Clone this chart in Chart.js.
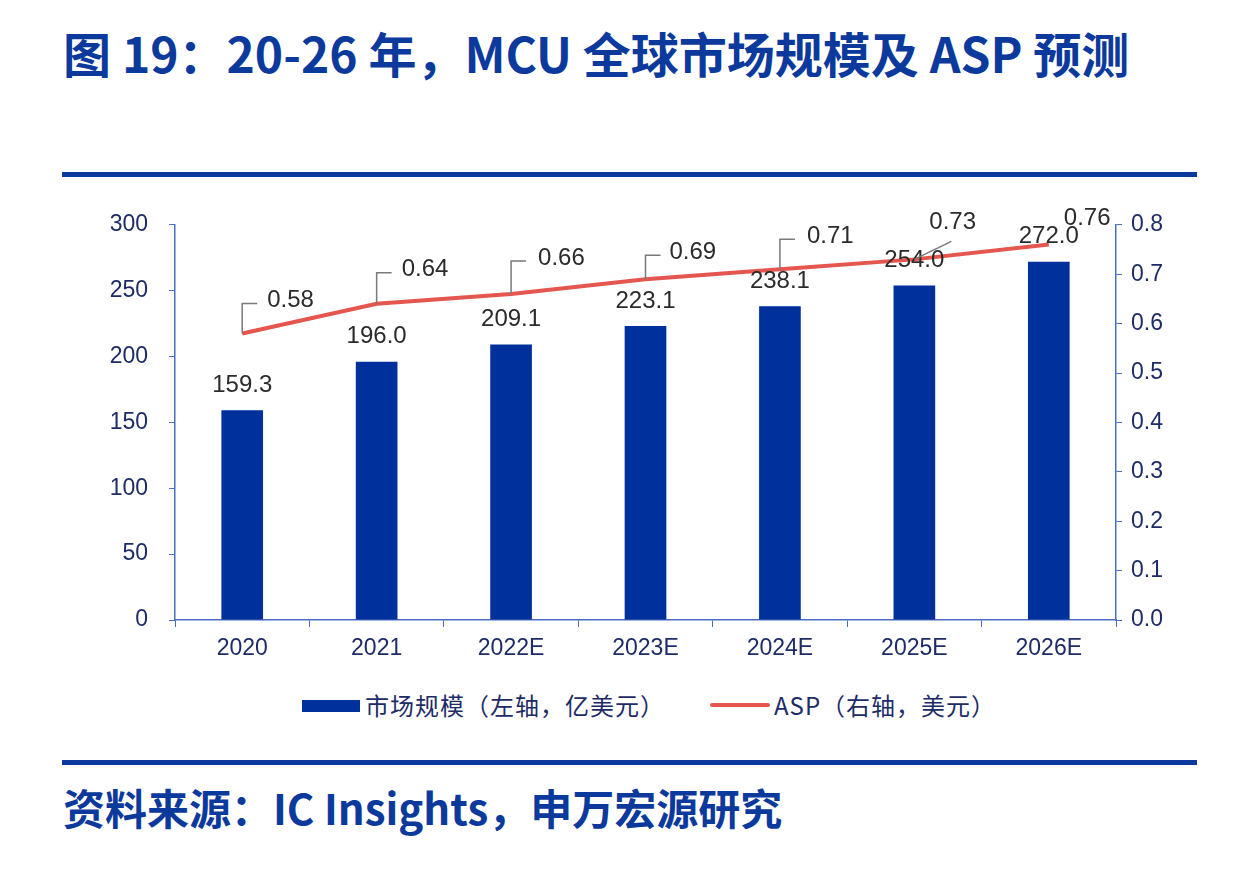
<!DOCTYPE html>
<html>
<head>
<meta charset="utf-8">
<script src="https://cdn.jsdelivr.net/npm/chart.js@4/dist/chart.umd.min.js"></script>
<style>
  html, body { margin: 0; padding: 0; background: #fff; }
  body { width: 1252px; height: 870px; position: relative; overflow: hidden; }
  .title {
    position: absolute; left: 63px; top: 17px;
    font: bold 48px "Noto Sans CJK SC", sans-serif; color: #0c3a9c; white-space: nowrap;
  }
  .rule { position: absolute; left: 62px; width: 1135px; height: 5px; background: #0c3a9c; }
  .source {
    position: absolute; left: 63px; top: 776px;
    font: bold 42px "Noto Sans CJK SC", sans-serif; color: #0c3a9c; white-space: nowrap;
  }
  .legend {
    position: absolute; top: 690px; left: 302px; height: 30px;
    font: 24px "Noto Sans CJK SC", sans-serif; color: #1d2b66; white-space: nowrap; letter-spacing: 1px;
  }
  .legend span { position: absolute; top: 0; line-height: 30px; }
  .swatch { position: absolute; }
  #wrap { position: absolute; left: 0; top: 190px; width: 1252px; height: 490px; }
</style>
</head>
<body>
<div class="title">图 19：20-26 年，MCU 全球市场规模及 ASP 预测</div>
<div class="rule" style="top:172px"></div>

<div id="wrap"><canvas id="chart"></canvas></div>

<div class="legend" id="legend"></div>

<div class="rule" style="top:760px"></div>
<div class="source">资料来源：IC Insights，申万宏源研究</div>

<script>
// 数据
const years = ['2020', '2021', '2022E', '2023E', '2024E', '2025E', '2026E'];
const marketSize = [159.3, 196.0, 209.1, 223.1, 238.1, 254.0, 272.0];
const asp = [0.58, 0.64, 0.66, 0.69, 0.71, 0.73, 0.76];
const leftTicks = [0, 50, 100, 150, 200, 250, 300];
const rightTicks = [0, 0.1, 0.2, 0.3, 0.4, 0.5, 0.6, 0.7, 0.8];
const seriesNames = ['市场规模（左轴，亿美元）', 'ASP（右轴，美元）'];

const BLUE = '#00309b';
const RED = '#e4564e';
const AXIS = '#4a6fc2';
const TICK_TXT = '#1d2b66';
const TICK_FONT = { family: '"Liberation Sans", Arial', size: 23 };

// 折线标签的位置（像素偏移）和引线样式
const aspLabelStyle = [
  { dx: 25, dy: -33, callout: 'elbow' },
  { dx: 25, dy: -34, callout: 'elbow' },
  { dx: 27, dy: -36, callout: 'elbow' },
  { dx: 24, dy: -27, callout: 'elbow' },
  { dx: 27, dy: -33, callout: 'elbow' },
  { dx: 15, dy: -37, callout: 'diag' },
  { dx: 15, dy: -26, callout: 'none' }
];

// 图例
const legend = document.getElementById('legend');
legend.innerHTML =
  '<div class="swatch" style="left:0;top:10px;width:58px;height:12px;background:' + BLUE + '"></div>' +
  '<span style="left:63px">' + seriesNames[0] + '</span>' +
  '<div class="swatch" style="left:408px;top:13px;width:60px;height:4px;border-radius:2px;background:' + RED + '"></div>' +
  '<span style="left:472px">' + seriesNames[1] + '</span>';

const labelPlugin = {
  id: 'valueLabels',
  afterDatasetsDraw(chart) {
    const ctx = chart.ctx;
    ctx.save();
    ctx.font = '24px "Liberation Sans", Arial, sans-serif';
    ctx.fillStyle = '#2b2b2b';
    ctx.textBaseline = 'middle';

    // 柱子数值
    const barMeta = chart.getDatasetMeta(0);
    ctx.textAlign = 'center';
    barMeta.data.forEach((bar, i) => {
      ctx.fillText(marketSize[i].toFixed(1), bar.x, bar.y - 25);
    });

    // 折线数值 + 引线
    const lineMeta = chart.getDatasetMeta(1);
    ctx.strokeStyle = '#7a7a7a';
    ctx.lineWidth = 1.5;
    lineMeta.data.forEach((pt, i) => {
      const s = aspLabelStyle[i];
      const tx = pt.x + s.dx;
      const ty = pt.y + s.dy;
      if (s.callout === 'elbow') {
        ctx.beginPath();
        ctx.moveTo(pt.x, pt.y);
        ctx.lineTo(pt.x, ty + 3);
        ctx.lineTo(pt.x + 15, ty + 3);
        ctx.stroke();
      } else if (s.callout === 'diag') {
        ctx.beginPath();
        ctx.moveTo(pt.x, pt.y);
        ctx.lineTo(pt.x + 37, pt.y - 18);
        ctx.stroke();
      }
      ctx.textAlign = 'left';
      ctx.fillText(asp[i].toFixed(2), tx, ty);
    });
    ctx.restore();
  }
};

new Chart(document.getElementById('chart'), {
  data: {
    labels: years,
    datasets: [
      {
        type: 'bar',
        label: seriesNames[0],
        data: marketSize,
        backgroundColor: BLUE,
        categoryPercentage: 1,
        barPercentage: 0.31,
        yAxisID: 'y',
        order: 2
      },
      {
        type: 'line',
        label: seriesNames[1],
        data: asp,
        borderColor: RED,
        borderWidth: 4,
        pointRadius: 0,
        tension: 0,
        yAxisID: 'y1',
        order: 1
      }
    ]
  },
  plugins: [labelPlugin],
  options: {
    responsive: true,
    maintainAspectRatio: false,
    animation: false,
    layout: { padding: { top: 34, right: 0, bottom: 0, left: 0 } },
    plugins: { legend: { display: false }, tooltip: { enabled: false } },
    scales: {
      x: {
        grid: { display: true, drawOnChartArea: false, drawTicks: true, tickLength: 7, color: AXIS, offset: true },
        border: { display: true, color: AXIS, width: 1.5 },
        ticks: { color: TICK_TXT, font: TICK_FONT, padding: 8 },
        afterFit: s => { s.height = 60; }
      },
      y: {
        position: 'left',
        min: 0, max: 300,
        afterBuildTicks: s => { s.ticks = leftTicks.map(v => ({ value: v })); },
        grid: { display: true, drawOnChartArea: false, drawTicks: true, tickLength: 6, color: AXIS },
        border: { display: true, color: AXIS, width: 1.5 },
        ticks: { color: TICK_TXT, font: TICK_FONT, padding: 21 },
        afterFit: s => { s.width = 175; }
      },
      y1: {
        position: 'right',
        min: 0, max: 0.8,
        afterBuildTicks: s => { s.ticks = rightTicks.map(v => ({ value: v })); },
        grid: { display: true, drawOnChartArea: false, drawTicks: true, tickLength: 6, color: AXIS },
        border: { display: true, color: AXIS, width: 1.5 },
        ticks: {
          color: TICK_TXT, font: TICK_FONT, padding: 9,
          callback: v => Number(v).toFixed(1)
        },
        afterFit: s => { s.width = 136; }
      }
    }
  }
});
</script>
</body>
</html>
